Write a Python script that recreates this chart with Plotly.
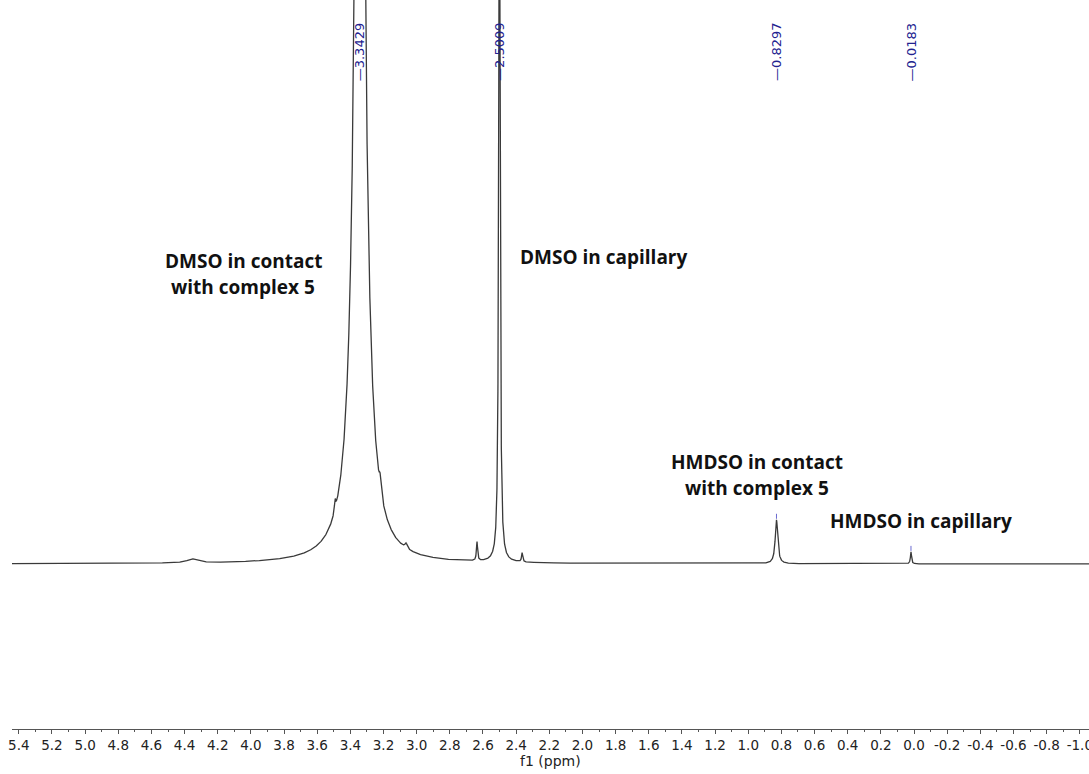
import numpy as np
import plotly.graph_objects as go

# Peak table of the 1H spectrum: position (ppm), height (a.u.), half width at half max (ppm)
peak_ppm = [4.355, 3.492, 3.3429, 3.221, 3.064, 2.636, 2.5009, 2.364, 0.8297, 0.0183]
peak_height = [4.0, 11.0, 1160.0, 12.0, 5.0, 19.0, 780.0, 9.0, 44.0, 12.0]
peak_hwhm = [0.035, 0.005, 0.033, 0.005, 0.008, 0.004, 0.0048, 0.004, 0.009, 0.004]

# Peak-picking labels shown above the spectrum
picked_ppm = [3.3429, 2.5009, 0.8297, 0.0183]
picked_text = ["3.3429", "2.5009", "0.8297", "0.0183"]

# Axis ticks
tick_labels = ["5.4", "5.2", "5.0", "4.8", "4.6", "4.4", "4.2", "4.0", "3.8", "3.6",
               "3.4", "3.2", "3.0", "2.8", "2.6", "2.4", "2.2", "2.0", "1.8", "1.6",
               "1.4", "1.2", "1.0", "0.8", "0.6", "0.4", "0.2", "0.0", "-0.2", "-0.4",
               "-0.6", "-0.8", "-1.0"]
tick_vals = [float(t) for t in tick_labels]

X_LEFT, X_RIGHT = 5.441, -1.0555
Y_LOW, Y_HIGH = -165.0, 564.0


def lorentz_sum(x):
    y = np.zeros_like(x, dtype=float)
    for p, h, w in zip(peak_ppm, peak_height, peak_hwhm):
        y += h / (1.0 + ((x - p) / w) ** 2)
    return y


ppm = np.linspace(X_LEFT, X_RIGHT, 26000)
intensity = lorentz_sum(ppm)

fig = go.Figure()
fig.add_trace(go.Scatter(
    x=ppm, y=intensity, mode="lines",
    line=dict(color="#3a3a3a", width=1.3),
    hoverinfo="skip", showlegend=False,
))

label_color = "#22228f"

# Vertical peak-pick labels at the top
for p, t in zip(picked_ppm, picked_text):
    fig.add_annotation(
        x=p, xref="x", y=0.9294, yref="paper",
        text="\u2014" + t, textangle=-90, showarrow=False,
        xanchor="center", yanchor="middle",
        font=dict(family="DejaVu Sans", size=13, color=label_color),
    )
    top = float(lorentz_sum(np.array([p]))[0])
    if top < Y_HIGH - 10:
        fig.add_shape(type="line", xref="x", yref="y",
                      x0=p, x1=p, y0=top + 1, y1=top + 6,
                      line=dict(color="#6a6ad0", width=1))

# Assignment notes
note_font = dict(family="Open Sans", size=19, color="#111111")
notes = [
    ("<b>DMSO in contact</b>", 4.047, 0.642),
    ("<b>with complex 5</b>", 4.047, 0.606),
    ("<b>DMSO in capillary</b>", 1.876, 0.6475),
    ("<b>HMDSO in contact</b>", 0.947, 0.366),
    ("<b>with complex 5</b>", 0.947, 0.3306),
    ("<b>HMDSO in capillary</b>", -0.042, 0.2853),
]
for txt, xp, yp in notes:
    fig.add_annotation(x=xp, xref="x", y=yp, yref="paper", text=txt,
                       showarrow=False, xanchor="center", yanchor="middle",
                       font=note_font)

# Axis title
fig.add_annotation(x=0.5, xref="paper", y=-(761 - 729) / 729, yref="paper",
                   text="f1 (ppm)", showarrow=False,
                   xanchor="center", yanchor="middle",
                   font=dict(family="DejaVu Sans", size=14, color="#222222"))

fig.update_layout(
    width=1089, height=774,
    margin=dict(l=12, r=0, t=0, b=45, autoexpand=False),
    paper_bgcolor="white", plot_bgcolor="white",
    xaxis=dict(
        range=[X_LEFT, X_RIGHT],
        tickmode="array", tickvals=tick_vals, ticktext=tick_labels,
        ticks="outside", ticklen=4, tickwidth=1, tickcolor="#555555",
        showline=True, linecolor="#555555", linewidth=1,
        showgrid=False, zeroline=False, automargin=False,
        ticklabeloverflow="allow",
        tickfont=dict(family="DejaVu Sans", size=13.5, color="#222222"),
        minor=dict(tickmode="linear", tick0=0, dtick=0.1, ticks="outside",
                   ticklen=2, tickcolor="#555555", showgrid=False),
    ),
    yaxis=dict(range=[Y_LOW, Y_HIGH], visible=False, showgrid=False, zeroline=False),
)

fig.write_html("out.html")
